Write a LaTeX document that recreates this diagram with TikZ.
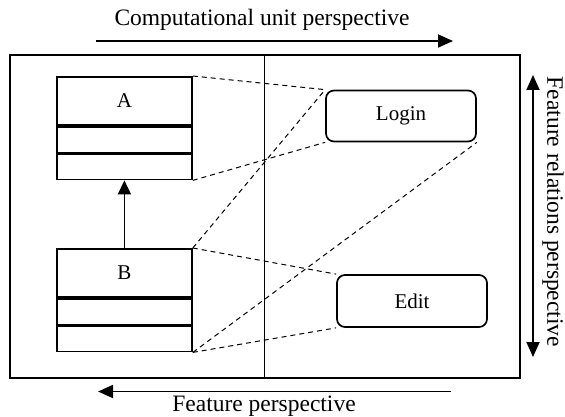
\documentclass[tikz,border=0pt]{standalone}
\usepackage{fontspec}
\setmainfont{Liberation Serif}
\usetikzlibrary{arrows.meta}
\begin{document}
\begin{tikzpicture}[x=1pt,y=-1pt,
  comp/.style={draw,line width=1.8pt,minimum width=135pt,inner sep=0pt,anchor=north west,font=\fontsize{21}{25}\selectfont},
  feat/.style={draw,line width=1.7pt,rounded corners=8pt,inner sep=0pt,minimum width=150pt,font=\fontsize{21}{25}\selectfont},
  conn/.style={line width=1pt,dash pattern=on 5pt off 4pt},
  persp/.style={font=\fontsize{23.5}{28}\selectfont,inner sep=0pt},
  bigtip/.tip={Triangle[length=15pt,width=13pt]},
  bigarrow/.style={line width=1.8pt,-bigtip},
]
\useasboundingbox (0,0) rectangle (565,417);
% frame and divider
\node[draw,line width=1.8pt,minimum width=510pt,minimum height=323pt,anchor=north west,inner sep=0pt] (frame) at (9,54) {};
\coordinate (dtop) at (264,54);
\coordinate (dbot) at (264,377);
\draw[line width=1pt] (dtop) -- (dbot);
% class A
\node[comp,minimum height=48pt] (Aname) at (56,76) {A};
\node[comp,minimum height=26pt] (Aatt) at (Aname.south west) {};
\node[comp,minimum height=25pt] (Aop) at (Aatt.south west) {};
% class B
\node[comp,minimum height=48pt] (Bname) at (56,248) {B};
\node[comp,minimum height=26pt] (Batt) at (Bname.south west) {};
\node[comp,minimum height=25pt] (Bop) at (Batt.south west) {};
% inheritance
\draw[line width=1.8pt,-{Triangle[length=14pt,width=13pt]}] (Bname.north) -- (Aop.south);
% features
\node[feat,minimum height=51pt] (login) at (401,116) {Login};
\node[feat,minimum height=52pt] (edit) at (412,301) {Edit};
% mappings
\draw[conn] (Aname.north east) -- (login.north west);
\draw[conn] (Aop.south east) -- (login.south west);
\draw[conn] (Bname.north east) -- (login.north west);
\draw[conn] (Bname.north east) -- (edit.north west);
\draw[conn] (Bop.south east) -- (login.south east);
\draw[conn] (Bop.south east) -- (edit.south west);
% perspectives
\coordinate (t1) at (96,41);
\coordinate (t2) at (453,41);
\draw[bigarrow] (t1) -- (t2);
\node[persp,anchor=base] (ttext) at (262,26) {Computational unit perspective};
\coordinate (b1) at (451,391.5);
\coordinate (b2) at (98,391.5);
\draw[bigarrow] (b1) -- (b2);
\node[persp,anchor=base] (btext) at (264,411) {Feature perspective};
\coordinate (r1) at (533,75);
\coordinate (r2) at (533,357);
\draw[line width=1.8pt,bigtip-bigtip] (r1) -- (r2);
\node[persp,rotate=-90] (rtext) at (553,212) {Feature relations perspective};
\end{tikzpicture}
\end{document}
